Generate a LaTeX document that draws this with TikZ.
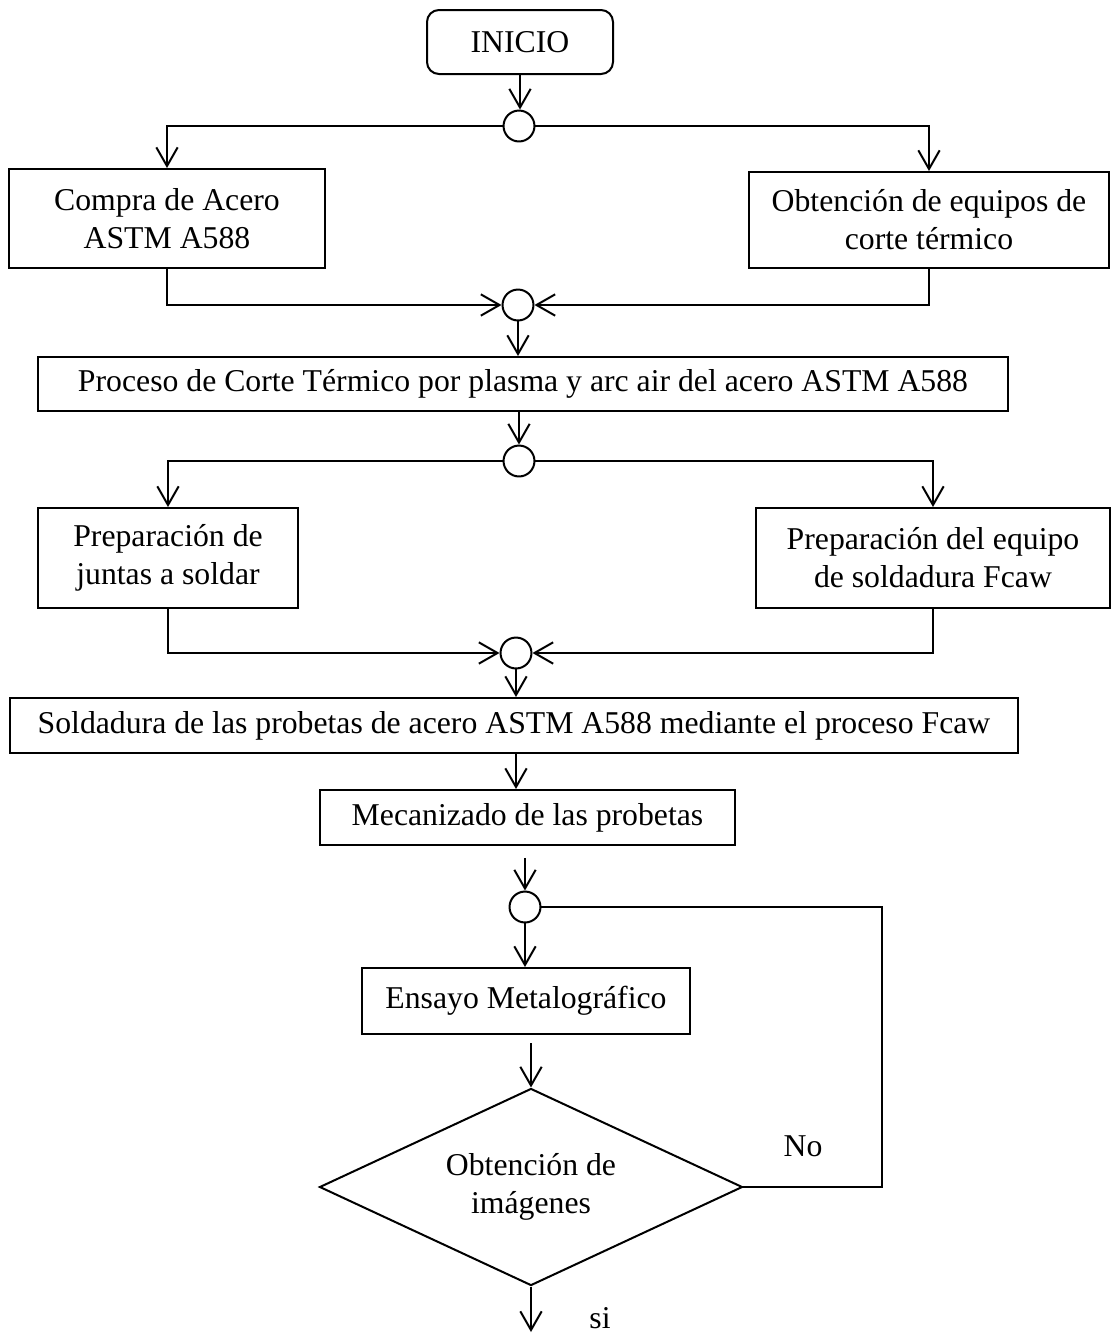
\documentclass[tikz,border=0pt]{standalone}
\usepackage{fontspec}
\setmainfont{Liberation Serif}
\usetikzlibrary{arrows.meta, shapes.geometric}

\begin{document}
\begin{tikzpicture}[x=0.375pt, y=-0.375pt, font=\fontsize{11.9}{14.25}\selectfont]
        % Setup the styles for the boxes and the joins
        \tikzset{box style/.style={rectangle,
                                   draw=black,
                                   line width=0.75pt,
                                   inner sep=0pt,
                                   align=center}}
        \tikzset{start style/.style={box style,
                                     rounded corners=4.5pt}}
        \tikzset{join style/.style={circle,
                                    draw=black,
                                    line width=0.75pt,
                                    minimum size=11.6pt,
                                    inner sep=0pt}}
        \tikzset{check style/.style={diamond,
                                     draw=black,
                                     line width=0.75pt,
                                     shape aspect=2.15,
                                     inner sep=0pt,
                                     align=center,
                                     minimum width=158.6pt,
                                     minimum height=73.9pt}}
        \tikzset{flow style/.style={line width=0.75pt,
                                    -{Straight Barb[length=7pt,width=8pt]}}}
        \tikzset{link style/.style={line width=0.75pt}}

        \useasboundingbox (0,0) rectangle (1114,1333);

        % Draw the boxes
        \node[start style, minimum width=69.75pt, minimum height=24pt] at (520,42) (inicio) {INICIO};
        \node[join style] at (519,126) (join1) {};
        \node[box style, minimum width=118.5pt, minimum height=37.1pt] at (167,218.5) (compra) {Compra de Acero\\ASTM A588};
        \node[box style, minimum width=135pt, minimum height=36pt] at (929,220) (equipos) {Obtención de equipos de\\corte térmico};
        \node[join style] at (518,305) (join2) {};
        \node[box style, minimum width=363.75pt, minimum height=20.25pt] at (523,384) (proceso) {Proceso de Corte Térmico por plasma y arc air del acero ASTM A588};
        \node[join style] at (519,461) (join3) {};
        \node[box style, minimum width=97.5pt, minimum height=37.5pt] at (168,558) (juntas) {Preparación de\\juntas a soldar};
        \node[box style, minimum width=132.75pt, minimum height=37.5pt] at (933,558) (equipo) {Preparación del equipo\\de soldadura Fcaw};
        \node[join style] at (516,653) (join4) {};
        \node[box style, minimum width=378pt, minimum height=20.6pt] at (514,725.5) (soldadura) {Soldadura de las probetas de acero ASTM A588 mediante el proceso Fcaw};
        \node[box style, minimum width=155.6pt, minimum height=20.6pt] at (527.5,817.5) (mecanizado) {Mecanizado de las probetas};
        \node[join style] at (525,907) (join5) {};
        \node[box style, minimum width=123pt, minimum height=24.75pt] at (526,1001) (ensayo) {Ensayo Metalográfico};
        \node[check style] at (531,1187) (imagenes) {Obtención de\\imágenes};
        \node at (803,1146) (no) {No};
        \node at (600,1318) (si) {si};
        \coordinate (vuelta) at (882,1187);
        \coordinate (fin) at (531,1332);

        % Connect the boxes with arrows
        \draw[flow style] (inicio) -- (inicio |- join1.north);
        \draw[flow style] (join1.west) -| (compra.north);
        \draw[flow style] (join1.east) -| (equipos.north);
        \draw[flow style] (compra.south) |- (join2);
        \draw[flow style] (equipos.south) |- (join2);
        \draw[flow style] (join2) -- (join2 |- proceso.north);
        \draw[flow style] (proceso.south -| join3) -- (join3);
        \draw[flow style] (join3.west) -| (juntas.north);
        \draw[flow style] (join3.east) -| (equipo.north);
        \draw[flow style] (juntas.south) |- (join4);
        \draw[flow style] (equipo.south) |- (join4);
        \draw[flow style] (join4) -- (join4 |- soldadura.north);
        \draw[flow style] (soldadura.south -| join4) -- (join4 |- mecanizado.north);
        \draw[flow style] ([yshift=-4.5pt]mecanizado.south -| join5) -- (join5);
        \draw[flow style] (join5) -- (join5 |- ensayo.north);
        \draw[flow style] ([yshift=-3pt]ensayo.south -| imagenes) -- (imagenes.north);
        \draw[flow style] (imagenes.south) -- (fin);
        \draw[link style] (imagenes.east) -- (vuelta) |- (join5);
\end{tikzpicture}
\end{document}
